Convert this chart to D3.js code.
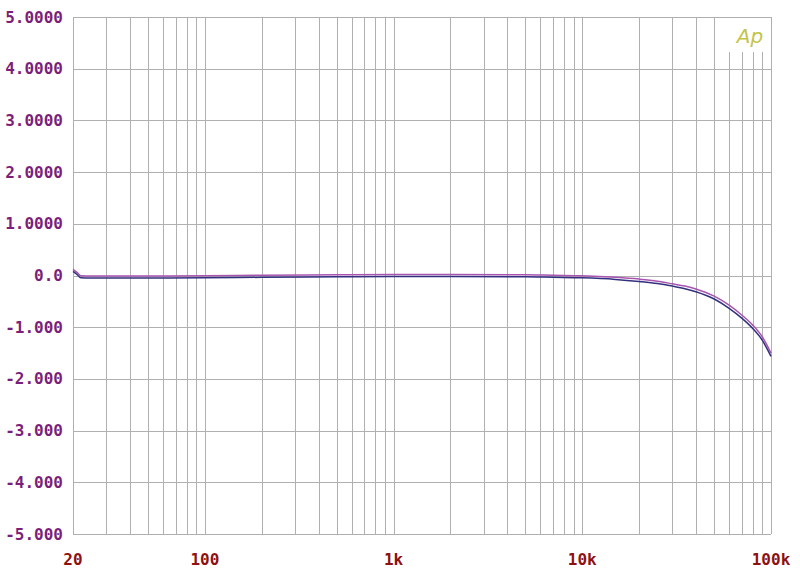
<!DOCTYPE html>
<html><head><meta charset="utf-8">
<script src="https://cdn.jsdelivr.net/npm/d3@7"></script>
<style>body{margin:0;background:#fff}svg{display:block}</style>
</head><body>
<script>
const freqs = [20, 21, 22, 25, 30, 50, 100, 200, 500, 1000, 2000, 5000, 7000, 10000, 15000, 20000, 25000, 30000, 35000, 40000, 50000, 60000, 70000, 80000, 90000, 100000];
const seriesLower = [0.08, 0.02, -0.045, -0.05, -0.05, -0.05, -0.045, -0.035, -0.025, -0.02, -0.02, -0.025, -0.035, -0.045, -0.075, -0.115, -0.155, -0.205, -0.255, -0.315, -0.455, -0.635, -0.825, -1.025, -1.255, -1.565];
const seriesUpper = [0.12, 0.06, -0.005, -0.01, -0.01, -0.01, -0.005, 0.005, 0.015, 0.02, 0.02, 0.015, 0.005, -0.005, -0.035, -0.07, -0.11, -0.16, -0.205, -0.26, -0.4, -0.575, -0.765, -0.96, -1.19, -1.5];
const yTicks = [5, 4, 3, 2, 1, 0, -1, -2, -3, -4, -5];
const yTickLabels = ["5.0000", "4.0000", "3.0000", "2.0000", "1.0000", "0.0", "-1.000", "-2.000", "-3.000", "-4.000", "-5.000"];
const xTicks = [20, 100, 1000, 10000, 100000];
const xTickLabels = ["20", "100", "1k", "10k", "100k"];
const xGrid = [20,30,40,50,60,70,80,90,100,200,300,400,500,600,700,800,900,1000,2000,3000,4000,5000,6000,7000,8000,9000,10000,20000,30000,40000,50000,60000,70000,80000,90000,100000];

const W = 800, H = 574;
const L = 73, R = 771, T = 17, B = 534;
const svg = d3.select("body").append("svg").attr("width", W).attr("height", H);
const x = d3.scaleLog().domain([20, 100000]).range([L, R]);
const y = d3.scaleLinear().domain([-5, 5]).range([B, T]);

const grid = svg.append("g").attr("stroke", "#b0b0b0").attr("stroke-width", 1.2).attr("shape-rendering", "crispEdges");
grid.selectAll("line.v").data(xGrid).join("line")
  .attr("x1", d => Math.round(x(d)) + 0.5).attr("x2", d => Math.round(x(d)) + 0.5)
  .attr("y1", d => (d >= 60000 && d < 100000) ? 52 : T).attr("y2", B);
grid.selectAll("line.h").data(yTicks).join("line")
  .attr("x1", L).attr("x2", R)
  .attr("y1", d => Math.round(y(d)) + 0.5).attr("y2", d => Math.round(y(d)) + 0.5);

svg.append("text").attr("x", 750).attr("y", 43).attr("text-anchor", "middle")
  .attr("font-family", "'DejaVu Sans', sans-serif").attr("font-style", "italic").attr("font-size", 20)
  .attr("fill", "#c4c44a").text("Ap");

const line = vals => d3.line().x((d, i) => x(freqs[i])).y(d => y(d)).curve(d3.curveMonotoneX)(vals);
svg.append("path").attr("d", line(seriesUpper)).attr("fill", "none").attr("stroke", "#a855b0").attr("stroke-width", 1.5);
svg.append("path").attr("d", line(seriesLower)).attr("fill", "none").attr("stroke", "#33307f").attr("stroke-width", 1.5);

svg.append("g").selectAll("text").data(yTicks).join("text")
  .attr("x", 63).attr("y", d => y(d) + 5.5).attr("text-anchor", "end")
  .attr("font-family", "'DejaVu Sans Mono', monospace").attr("font-weight", "bold").attr("font-size", 16)
  .attr("fill", "#7b1f7b").text((d, i) => yTickLabels[i]);

svg.append("g").selectAll("text").data(xTicks).join("text")
  .attr("x", d => x(d)).attr("y", 565).attr("text-anchor", "middle")
  .attr("font-family", "'DejaVu Sans Mono', monospace").attr("font-weight", "bold").attr("font-size", 16)
  .attr("fill", "#8e1010").text((d, i) => xTickLabels[i]);
</script>
</body></html>
